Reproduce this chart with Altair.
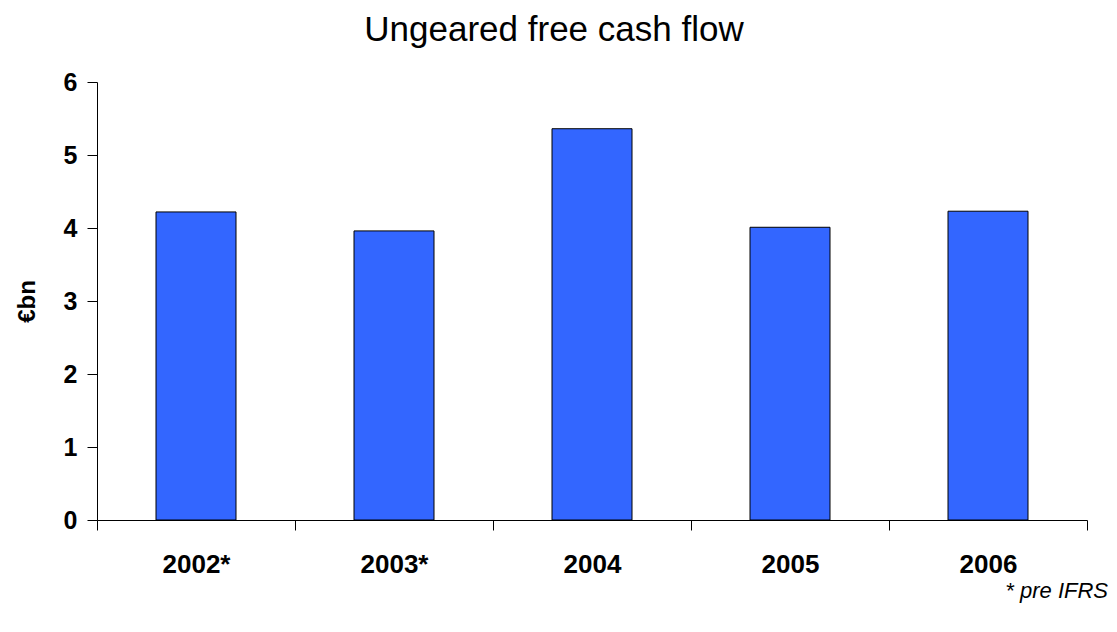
import altair as alt
import pandas as pd

# Ungeared free cash flow, EUR bn
years = ["2002*", "2003*", "2004", "2005", "2006"]
cash_flow = [4.22, 3.96, 5.36, 4.01, 4.23]
footnote = ["* pre IFRS"]

FONT = "Liberation Sans"

df = pd.DataFrame({"year": years, "value": cash_flow})
note_df = pd.DataFrame({"note": footnote})

bars = (
    alt.Chart(df)
    .mark_bar(width=80, color="#3366FF", stroke="black", strokeWidth=1)
    .encode(
        x=alt.X(
            "year:N",
            sort=years,
            scale=alt.Scale(paddingInner=0, paddingOuter=0),
            axis=alt.Axis(
                title=None,
                labelAngle=0,
                labelFont=FONT,
                labelFontSize=26,
                labelFontWeight="bold",
                labelColor="black",
                labelPadding=21,
                tickBand="extent",
                tickSize=10,
                tickColor="black",
                domainColor="black",
                grid=False,
            ),
        ),
        y=alt.Y(
            "value:Q",
            scale=alt.Scale(domain=[0, 6]),
            axis=alt.Axis(
                title="€bn",
                titleFont=FONT,
                titleFontSize=24,
                titleFontWeight="bold",
                titleColor="black",
                titlePadding=24,
                values=[0, 1, 2, 3, 4, 5, 6],
                labelFont=FONT,
                labelFontSize=25,
                labelFontWeight="bold",
                labelColor="black",
                labelPadding=10,
                tickSize=10,
                tickColor="black",
                domainColor="black",
                grid=False,
            ),
        ),
    )
)

note = (
    alt.Chart(note_df)
    .mark_text(
        font=FONT,
        fontSize=22,
        fontStyle="italic",
        align="right",
        baseline="alphabetic",
        color="black",
    )
    .encode(text="note:N", x=alt.value(1011), y=alt.value(516))
)

chart = (
    alt.layer(bars, note)
    .properties(
        width=990,
        height=438,
        background="white",
        title=alt.TitleParams(
            "Ungeared free cash flow",
            font=FONT,
            fontSize=35,
            fontWeight="normal",
            color="black",
            anchor="middle",
            dx=-38,
            offset=22,
        ),
        autosize=alt.AutoSizeParams(type="none"),
        padding={"left": 97, "top": 82, "right": 30, "bottom": 112},
    )
    .configure_view(stroke=None, strokeOpacity=0)
    .configure_axis(grid=False)
)

chart.save("out.html", embed_options={"renderer": "svg", "actions": False})
